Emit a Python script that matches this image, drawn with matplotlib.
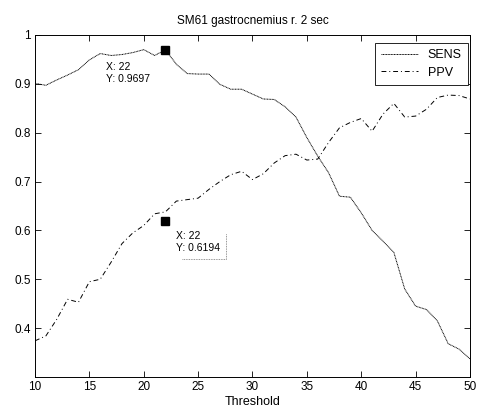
import numpy as np
import matplotlib
matplotlib.use("Agg")
import matplotlib.pyplot as plt
from matplotlib.lines import Line2D
from matplotlib.ticker import FormatStrFormatter, FuncFormatter

plt.rcParams.update({
    "font.family": ["Liberation Sans", "DejaVu Sans"],
    "xtick.direction": "in", "ytick.direction": "in",
    "xtick.top": True, "ytick.right": True,
    "xtick.major.size": 4, "ytick.major.size": 4,
    "xtick.major.width": 0.6, "ytick.major.width": 0.6,
    "axes.linewidth": 0.7,
})

# values
threshold = np.arange(10, 51)
sens = [0.901, 0.897, 0.908, 0.918, 0.929, 0.949, 0.962, 0.958, 0.960, 0.964,
        0.970, 0.958, 0.9697, 0.940, 0.921, 0.920, 0.920, 0.899, 0.889, 0.889,
        0.879, 0.869, 0.868, 0.853, 0.832, 0.790, 0.752, 0.718, 0.670, 0.668,
        0.636, 0.600, 0.578, 0.555, 0.480, 0.445, 0.438, 0.415, 0.368, 0.357,
        0.337]
ppv = [0.374, 0.384, 0.418, 0.459, 0.453, 0.495, 0.500, 0.535, 0.573, 0.595,
       0.610, 0.634, 0.638, 0.660, 0.663, 0.666, 0.684, 0.700, 0.714, 0.721,
       0.704, 0.716, 0.738, 0.753, 0.756, 0.744, 0.746, 0.780, 0.810, 0.821,
       0.829, 0.803, 0.838, 0.860, 0.832, 0.834, 0.848, 0.872, 0.877, 0.876,
       0.869]
# data tips shown in the figure
tip_x = [22, 22]
tip_y = [0.9697, 0.6194]

fig = plt.figure(figsize=(4.78, 4.13), dpi=100)
ax = fig.add_axes([0.0732, 0.0872, 0.9100, 0.8281])

ax.plot(threshold, sens, color="black", lw=0.7, ls=(0, (1, 0.6)), label="SENS")
ax.plot(threshold, ppv, color="black", lw=0.7, ls=(0, (5, 3, 1, 3)), label="PPV")
ax.plot(tip_x, tip_y, ls="none", marker="s", ms=6.3, color="black")

ax.set_xlim(10, 50)
ax.set_ylim(0.3, 1.0)
ax.set_xticks(np.arange(10, 51, 5))
ax.set_yticks([0.4, 0.5, 0.6, 0.7, 0.8, 0.9, 1.0])
ax.yaxis.set_major_formatter(FuncFormatter(lambda v, p: f"{v:g}"))
ax.tick_params(labelsize=8.5, pad=3)
ax.set_xlabel("Threshold", fontsize=9, labelpad=2)
ax.set_title("SM61 gastrocnemius r. 2 sec", fontsize=8.5, pad=8)

leg = ax.legend(loc="upper right", bbox_to_anchor=(0.995, 0.977),
                borderaxespad=0, fontsize=9, fancybox=False, framealpha=1,
                edgecolor="black", handlelength=2.9, handletextpad=0.8,
                labelspacing=0.45, borderpad=0.5)
leg.get_frame().set_linewidth(0.6)

# data tip labels
t1 = ax.annotate(f"X: {tip_x[0]}\nY: {tip_y[0]:.4f}", xy=(tip_x[0], tip_y[0]),
                 xytext=(-59, -12), textcoords="offset pixels",
                 fontsize=7.5, ha="left", va="top", linespacing=1.25)
t2 = ax.annotate(f"X: {tip_x[1]}\nY: {tip_y[1]:.4f}", xy=(tip_x[1], tip_y[1]),
                 xytext=(11, -10), textcoords="offset pixels",
                 fontsize=7.5, ha="left", va="top", linespacing=1.25)

# dotted partial border of the lower data tip box
fig.canvas.draw()
bb = t2.get_window_extent()
W, H = fig.bbox.width, fig.bbox.height
r, b, tp, l = bb.x1 + 6, bb.y0 - 6, bb.y1 - 2, bb.x0 + 6
fig.add_artist(Line2D([l / W, r / W, r / W], [b / H, b / H, tp / H],
                      transform=fig.transFigure, color="0.45", lw=0.6,
                      ls=(0, (1, 1))))

fig.savefig("out.png", dpi=100, facecolor="white")
